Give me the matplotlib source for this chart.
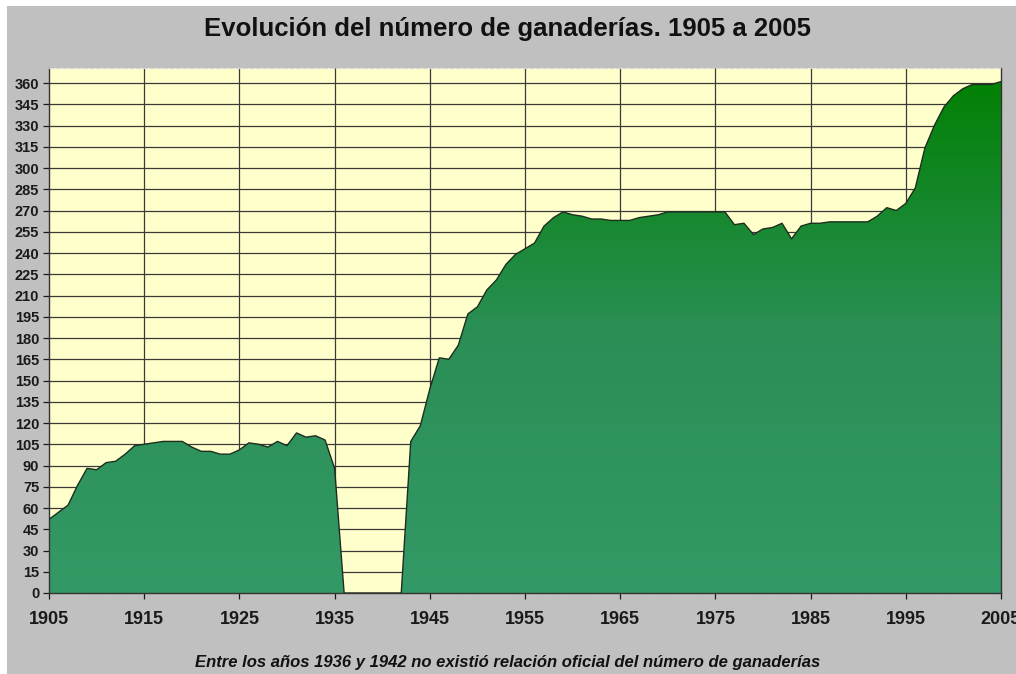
import numpy as np
import matplotlib
matplotlib.use("Agg")
import matplotlib.pyplot as plt
from matplotlib.colors import LinearSegmentedColormap
from matplotlib.patches import Rectangle

# Número de ganaderías por año (1936-1942 sin relación oficial -> 0)
years = list(range(1905, 2006))
ganaderias = [
    52, 57, 62, 76, 88, 87, 92, 93, 98, 104,            # 1905-1914
    105, 106, 107, 107, 107, 103, 100, 100, 98, 98,     # 1915-1924
    101, 106, 105, 103, 107, 104, 113, 110, 111, 108,   # 1925-1934
    88, 0, 0, 0, 0, 0, 0, 0, 107, 118,                  # 1935-1944
    144, 166, 165, 175, 197, 202, 214, 221, 232, 239,   # 1945-1954
    243, 247, 259, 265, 269, 267, 266, 264, 264, 263,   # 1955-1964
    263, 263, 265, 266, 267, 269, 269, 269, 269, 269,   # 1965-1974
    269, 269, 260, 261, 253, 257, 258, 261, 250, 259,   # 1975-1984
    261, 261, 262, 262, 262, 262, 262, 266, 272, 270,   # 1985-1994
    275, 286, 314, 330, 343, 351, 356, 359, 359, 359,   # 1995-2004
    361,                                                # 2005
]

x_ticks = list(range(1905, 2006, 10))
y_ticks = list(range(0, 361, 15))

title = "Evolución del número de ganaderías. 1905 a 2005"
note = "Entre los años 1936 y 1942 no existió relación oficial del número de ganaderías"

plt.rcParams['font.family'] = ['Liberation Sans', 'DejaVu Sans']

fig = plt.figure(figsize=(10.16, 6.74), dpi=100)
fig.patch.set_facecolor('#c0c0c0')
# white strips on top and left edge
fig.patches.append(Rectangle((0, 1 - 6 / 674), 1, 6 / 674, transform=fig.transFigure,
                             facecolor='white', edgecolor='none', zorder=0))
fig.patches.append(Rectangle((0, 0), 7 / 1016, 1, transform=fig.transFigure,
                             facecolor='white', edgecolor='none', zorder=0))

ax = fig.add_axes([49 / 1016, 1 - 593 / 674, (1001 - 49) / 1016, (593 - 68) / 674])
ax.set_facecolor('#ffffcc')

ymax = 370.6
ax.set_xlim(1905, 2005)
ax.set_ylim(0, ymax)

# grid
for yv in y_ticks[1:]:
    ax.axhline(yv, color='#3a3a3a', linewidth=0.9, zorder=1)
for xv in x_ticks[1:-1]:
    ax.axvline(xv, color='#3a3a3a', linewidth=0.9, zorder=1)

# area with vertical gradient
poly = ax.fill_between(years, ganaderias, 0, facecolor='none', edgecolor='none', zorder=2)
cmap = LinearSegmentedColormap.from_list('verde', ['#339966', '#2a8f55', '#008000'])
grad = np.linspace(0, 1, 256).reshape(-1, 1)
im = ax.imshow(grad, extent=[1905, 2005, 0, ymax], origin='lower', aspect='auto',
               cmap=cmap, zorder=2)
im.set_clip_path(poly.get_paths()[0], transform=ax.transData)
ax.plot(years, ganaderias, color='#1e2e1e', linewidth=1.0, zorder=3)

ax.set_xticks(x_ticks)
ax.set_yticks(y_ticks)
ax.tick_params(axis='x', labelsize=13, length=4, width=0.9, pad=9, colors='#1a1a1a')
ax.tick_params(axis='y', labelsize=10.5, length=4, width=0.9, pad=3, colors='#1a1a1a')
for lab in ax.get_xticklabels() + ax.get_yticklabels():
    lab.set_fontweight('bold')

for side in ['left', 'bottom', 'right']:
    ax.spines[side].set_color('#333333')
    ax.spines[side].set_linewidth(1.0)
ax.spines['top'].set_color('#d8d8d8')
ax.spines['top'].set_linestyle((0, (4, 2)))

fig.text(0.5, 1 - 29 / 674, title, ha='center', va='center', fontsize=18.5,
         fontweight='bold', color='#111111')
fig.text(0.5, 1 - 662 / 674, note, ha='center', va='center', fontsize=12,
         fontweight='bold', style='italic', color='#111111')

fig.savefig('out.png', dpi=100, facecolor=fig.get_facecolor())
